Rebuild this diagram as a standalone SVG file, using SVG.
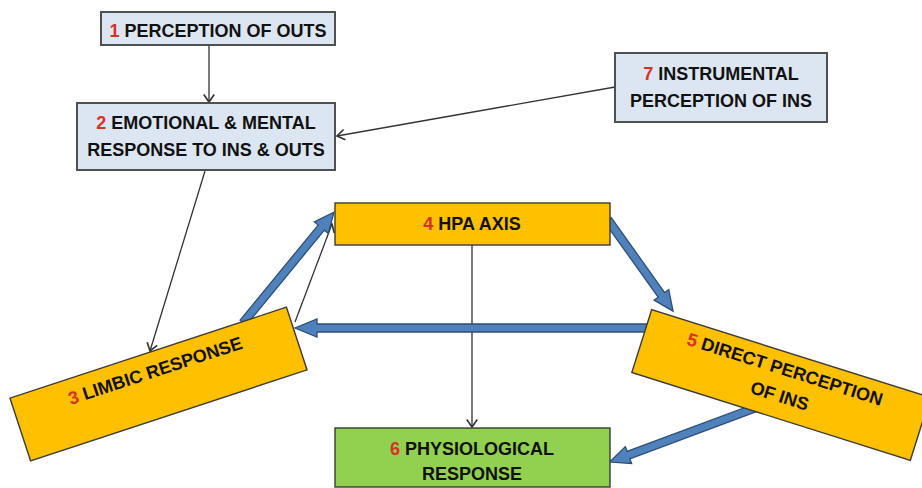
<svg xmlns="http://www.w3.org/2000/svg" width="922" height="488" viewBox="0 0 922 488">
<defs>
<marker id="open" markerUnits="userSpaceOnUse" markerWidth="14" markerHeight="14" viewBox="-8 -6 10 12" refX="0" refY="0" orient="auto">
<path d="M-6.5,-4.5 L0,0 L-6.5,4.5" fill="none" stroke="#333" stroke-width="1.4"/>
</marker>
</defs>
<style>
text{font-family:"Liberation Sans",Arial,sans-serif;font-weight:bold;font-size:18px;fill:#111;text-anchor:middle}
.n{fill:#D9302A}
.blue{fill:#4F81BD;stroke:#2F4E74;stroke-width:1.3;stroke-linejoin:miter}
.thin{fill:none;stroke:#333;stroke-width:1.3;marker-end:url(#open)}
.lb{fill:#DCE6F2;stroke:#505050;stroke-width:2}
.or{fill:#FFC000;stroke:#3a3a3a;stroke-width:1.4}
.gr{fill:#92D050;stroke:#3a3a3a;stroke-width:1.4}
</style>
<g id="connectors">
<line class="thin" x1="209" y1="45" x2="209" y2="102"/>
<line class="thin" x1="615" y1="87" x2="337" y2="136"/>
<line class="thin" x1="205" y1="171" x2="150" y2="351"/>
<line class="thin" x1="472" y1="245" x2="472" y2="427"/>
<line class="thin" x1="295" y1="322" x2="332" y2="224"/>
<polygon class="blue" transform="translate(247,318) rotate(-50.6)" points="-6,-4 117,-4 117,-9 137,0 117,9 117,4 -6,4"/>
<polygon class="blue" transform="translate(608,220) rotate(54.5)" points="0,-4 92,-4 92,-9 112,0 92,9 92,4 0,4"/>
<polygon class="blue" transform="translate(755,408) rotate(159.6)" points="-8,-4 135,-4 135,-9 155,0 135,9 135,4 -8,4"/>
<polygon class="blue" transform="translate(650,328) rotate(180)" points="0,-4 333,-4 333,-9 355,0 333,9 333,4 0,4"/>
</g>
<g id="n1">
<rect class="lb" x="101" y="12" width="234" height="33"/>
<text x="218" y="37"><tspan class="n">1</tspan> PERCEPTION OF OUTS</text>
</g>
<g id="n2">
<rect class="lb" x="77" y="103" width="258" height="67"/>
<text x="206" y="129"><tspan class="n">2</tspan> EMOTIONAL &amp; MENTAL</text>
<text x="206" y="156">RESPONSE TO INS &amp; OUTS</text>
</g>
<g id="n7">
<rect class="lb" x="615" y="53" width="212" height="69"/>
<text x="721" y="80"><tspan class="n">7</tspan> INSTRUMENTAL</text>
<text x="721" y="107">PERCEPTION OF INS</text>
</g>
<g id="n4">
<rect class="or" x="335" y="203" width="275" height="42"/>
<text x="472" y="230"><tspan class="n">4</tspan> HPA AXIS</text>
</g>
<g id="n3" transform="translate(158.5,384) rotate(-18.2)">
<rect class="or" x="-145.5" y="-33" width="291" height="66"/>
<text x="1" y="-7.5"><tspan class="n">3</tspan> LIMBIC RESPONSE</text>
</g>
<g id="n5" transform="translate(781,385) rotate(17.5)">
<rect class="or" x="-146" y="-33" width="292" height="66"/>
<text x="-1" y="-10"><tspan class="n">5</tspan> DIRECT PERCEPTION</text>
<text x="2" y="17">OF INS</text>
</g>
<g id="n6">
<rect class="gr" x="335" y="428" width="275" height="59"/>
<text x="472" y="455"><tspan class="n">6</tspan> PHYSIOLOGICAL</text>
<text x="472" y="480">RESPONSE</text>
</g>
</svg>
